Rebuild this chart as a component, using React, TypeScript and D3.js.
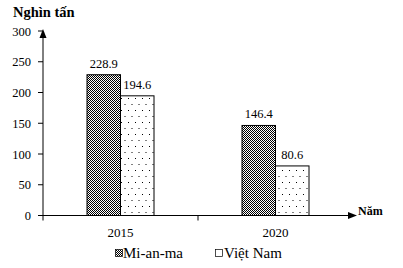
import React from "react";
import * as d3 from "d3";

const years = ["2015", "2020"];
const series = ["Mi-an-ma", "Việt Nam"];
const myanmar = [228.9, 146.4];
const vietnam = [194.6, 80.6];
const yTicks = [0, 50, 100, 150, 200, 250, 300];

const FONT = "'Times New Roman', 'Liberation Serif', Times, 'DejaVu Serif', serif";

export default function App() {
  const W = 403, H = 268;
  const x0 = 43, x1 = 353;
  const y = d3.scaleLinear().domain([0, 300]).range([215.5, 31]);
  const xb = d3.scaleBand().domain(years).range([x0, x1]);
  const inner = d3.scaleBand().domain(series).range([0, 67]);
  const vals = [myanmar, vietnam];
  const ts = (size: number, bold = false): React.CSSProperties => ({
    fontFamily: FONT, fontSize: size, fontWeight: bold ? "bold" : "normal",
  });
  return (
    <svg width={W} height={H} style={{ position: "absolute", left: 0, top: 0, background: "#fff" }}>
      <defs>
        <pattern id="chk" width="2" height="2" patternUnits="userSpaceOnUse">
          <rect width="2" height="2" fill="#fff" />
          <rect width="1" height="1" fill="#000" />
          <rect x="1" y="1" width="1" height="1" fill="#000" />
        </pattern>
        <pattern id="dot" width="7" height="12" patternUnits="userSpaceOnUse">
          <rect width="7" height="12" fill="#fff" />
          <rect x="2" y="2" width="1" height="1" fill="#000" />
          <rect x="5.5" y="8" width="1" height="1" fill="#000" />
        </pattern>
      </defs>
      <text x={13} y={17} style={ts(14.5, true)}>Nghìn tấn</text>
      {yTicks.map((t) => (
        <g key={t}>
          <line x1={38} x2={x0} y1={y(t)} y2={y(t)} stroke="#000" />
          <text x={31} y={y(t) + 4.5} style={ts(12.5)} textAnchor="end">{t}</text>
        </g>
      ))}
      {years.map((yr, i) =>
        series.map((s, j) => {
          const bx = (xb(yr) as number) + (xb.bandwidth() - 67) / 2 + (inner(s) as number);
          const v = vals[j][i];
          return (
            <g key={yr + s}>
              <rect x={bx} y={y(v)} width={inner.bandwidth()} height={y(0) - y(v)}
                fill={j === 0 ? "url(#chk)" : "url(#dot)"} stroke="#000" strokeWidth={1} />
              <text x={bx + inner.bandwidth() / 2} y={y(v) - 7} style={ts(12.5)} textAnchor="middle">{v}</text>
            </g>
          );
        })
      )}
      <line x1={x0} x2={x0} y1={y(0)} y2={36} stroke="#000" />
      <path d={`M${x0},29 L${x0 - 3.5},38 L${x0 + 3.5},38 Z`} fill="#000" />
      <line x1={x0} x2={350} y1={y(0)} y2={y(0)} stroke="#000" />
      <path d={`M357,${y(0)} L348,${y(0) - 3.5} L348,${y(0) + 3.5} Z`} fill="#000" />
      {[x0, (xb("2020") as number)].map((xx, i) => (
        <line key={i} x1={xx} x2={xx} y1={y(0)} y2={y(0) + 5} stroke="#000" />
      ))}
      <text x={358} y={215} style={ts(12, true)}>Năm</text>
      {years.map((yr) => (
        <text key={yr} x={(xb(yr) as number) + xb.bandwidth() / 2} y={237} style={ts(13)} textAnchor="middle">{yr}</text>
      ))}
      <g>
        <rect x={115.5} y={249.5} width={7} height={7} fill="url(#chk)" stroke="#000" strokeWidth={0.7} />
        <text x={123} y={258} style={ts(15)}>{series[0]}</text>
        <rect x={215.5} y={249.5} width={7} height={7} fill="#fff" stroke="#000" strokeWidth={0.7} />
        <text x={224} y={258} style={ts(15)}>{series[1]}</text>
      </g>
    </svg>
  );
}
